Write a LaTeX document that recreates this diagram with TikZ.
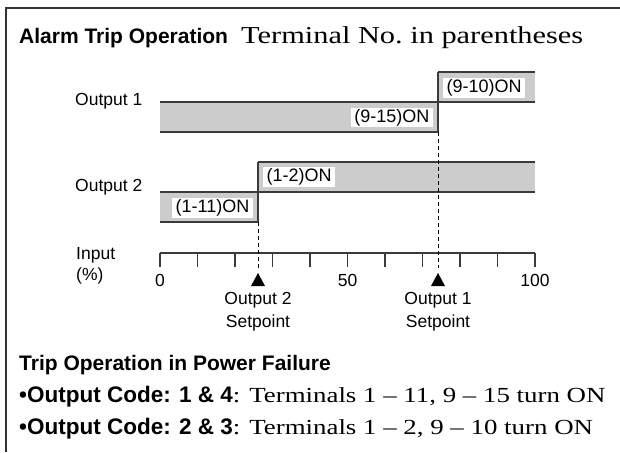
\documentclass[tikz,border=0pt]{standalone}
\usepackage{fontspec}
\usetikzlibrary{calc}
\setmainfont{Liberation Serif}[FakeStretch=1.25]
\setsansfont{Liberation Sans}
\definecolor{bandgray}{HTML}{CCCCCC}
\definecolor{linegray}{HTML}{3A3A3A}
\definecolor{framegray}{HTML}{333333}
\begin{document}
\begin{tikzpicture}[x=1pt,y=-1pt,
  lbl/.style={font=\sffamily\fontsize{17.5}{20}\selectfont, inner sep=0pt},
  onbox/.style={font=\sffamily\fontsize{18}{21}\selectfont, fill=white, inner xsep=3.5pt, inner ysep=1.5pt},
  band/.style={fill=bandgray},
  edgeline/.style={draw=linegray, line width=1.3pt},
  dashline/.style={draw=black, line width=0.8pt, dash pattern=on 4pt off 3pt},
  axisline/.style={draw=linegray, line width=1.2pt},
  marker/.style={fill=black},
  heading/.style={font=\sffamily\bfseries\fontsize{21}{25}\selectfont, inner sep=0pt, anchor=base west},
  bodytext/.style={font=\fontsize{21.5}{26}\selectfont, inner sep=0pt, anchor=base west}]
\useasboundingbox (0,0) rectangle (620,452);
% frame
\draw[draw=framegray, line width=1.5pt] (6,452) -- (6,8) -- (620,8);
% title
\node[heading] (title) at (19,44) {Alarm Trip Operation};
\node[inner sep=0pt, anchor=base west, font=\fontsize{24.3}{29}\selectfont] (sub) at (241,44) {Terminal No.\ in parentheses};
% row labels
\node[lbl, anchor=west] (o1) at (75,101) {Output 1};
\node[lbl, anchor=west] (o2) at (75,187) {Output 2};
% output 1 bands
\fill[band] (160,102) rectangle (438,132);
\fill[band] (438,72) rectangle (535,102);
\draw[edgeline] (160,102) -- (535,102);
\draw[edgeline] (160,132) -- (438,132);
\draw[edgeline] (438,72) -- (535,72);
\draw[edgeline] (438,72) -- (438,132) coordinate (s1b);
% output 2 bands
\fill[band] (160,192) rectangle (258,222);
\fill[band] (258,162) rectangle (535,192);
\draw[edgeline] (160,192) -- (535,192);
\draw[edgeline] (160,222) -- (258,222);
\draw[edgeline] (258,162) -- (535,162);
\draw[edgeline] (258,162) -- (258,222) coordinate (s2b);
% on labels
\node[onbox, anchor=west] (on910) at (443,88) {(9-10)ON};
\node[onbox, anchor=east] (on915) at (433,117.5) {(9-15)ON};
\node[onbox, anchor=west] (on12) at (263,177) {(1-2)ON};
\node[onbox, anchor=east] (on111) at (253,208) {(1-11)ON};
% axis
\draw[axisline] (160,253) -- (535,253);
\foreach \i in {0,...,10} {
  \draw[axisline] (160+37.5*\i,253) -- (160+37.5*\i,267);
}
\node[lbl] (t0) at (160,280) {0};
\node[lbl] (t50) at (347.5,280) {50};
\node[lbl] (t100) at (535,280) {100};
\node[lbl, anchor=west] (inp) at (76,255) {Input};
\node[lbl, anchor=west] (pct) at (76,276) {(\%)};
% setpoint markers
\coordinate (m2) at (258,273);
\coordinate (m1) at (438,273);
\fill[marker] (m2) -- ++(7,13) -- ++(-14,0) -- cycle;
\fill[marker] (m1) -- ++(7,13) -- ++(-14,0) -- cycle;
\draw[dashline] (s2b) -- ($(m2)+(0,-5)$);
\draw[dashline] (s1b) -- ($(m1)+(0,-5)$);
\node[lbl, align=center] (sp2) at (258,312) {Output 2\\[3pt]Setpoint};
\node[lbl, align=center] (sp1) at (438,312) {Output 1\\[3pt]Setpoint};
% power failure section
\node[heading] (pf) at (19,370) {Trip Operation in Power Failure};
\node[bodytext] (l1) at (19,402) {{\sffamily\bfseries\fontsize{22.5}{26}\selectfont •Output Code: 1 \& 4}: Terminals 1 – 11, 9 – 15 turn ON};
\node[bodytext] (l2) at (19,434) {{\sffamily\bfseries\fontsize{22.5}{26}\selectfont •Output Code: 2 \& 3}: Terminals 1 – 2, 9 – 10 turn ON};
\end{tikzpicture}
\end{document}
